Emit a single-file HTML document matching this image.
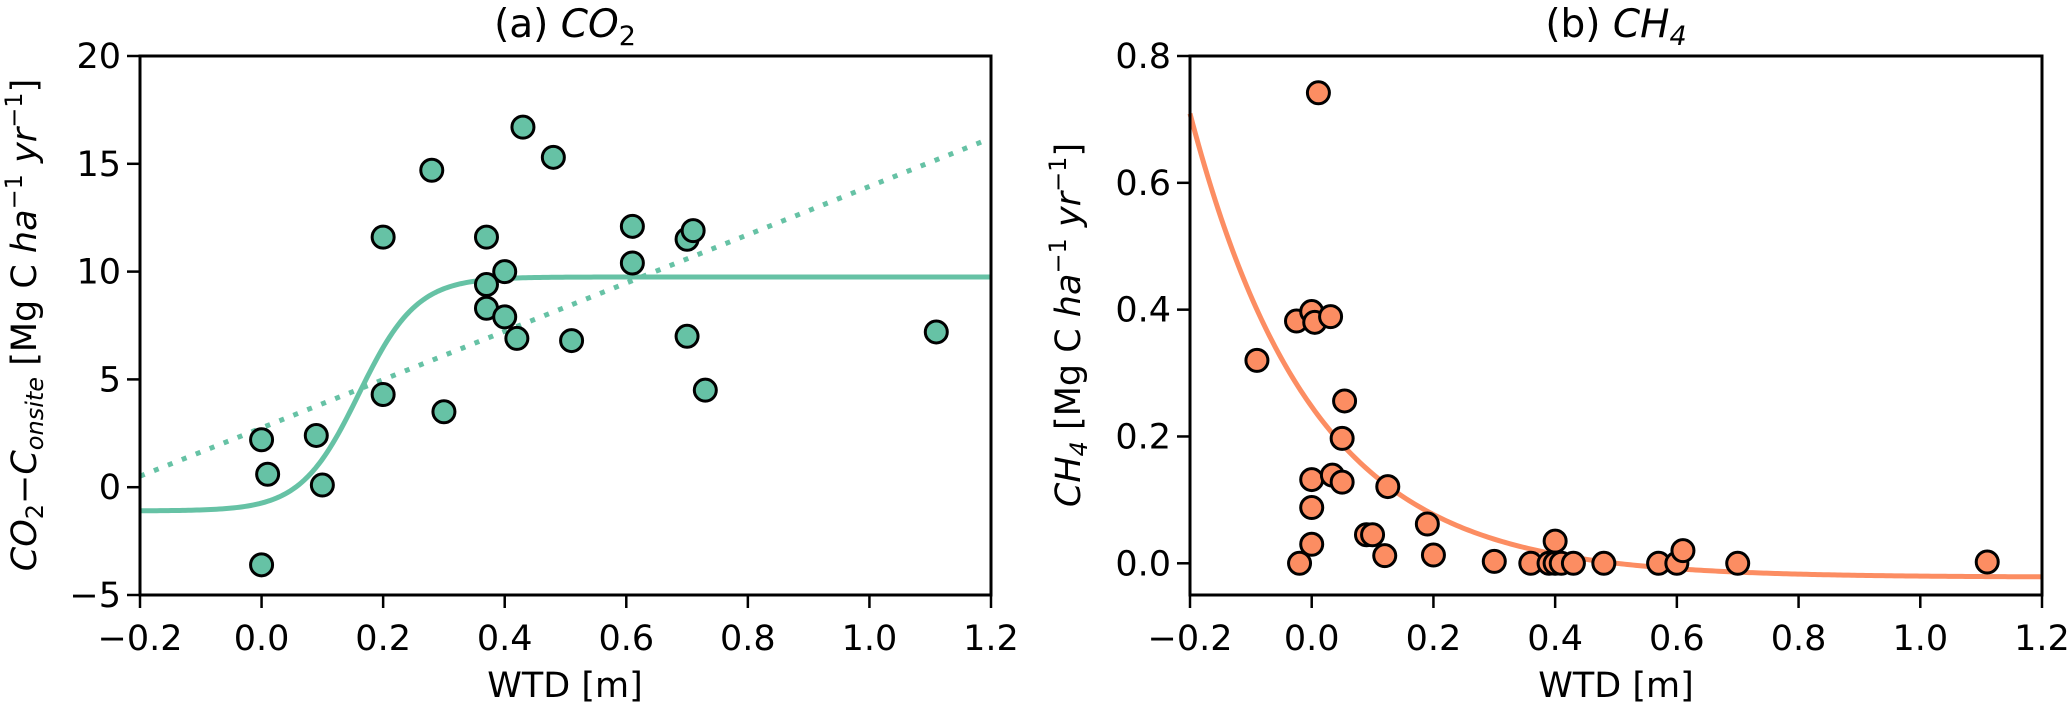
<!DOCTYPE html>
<html><head><meta charset="utf-8"><style>
body{margin:0;background:#fff;}
svg{display:block;font-family:"DejaVu Sans","Liberation Sans",sans-serif;}
</style></head><body>
<svg id="fig" width="2067" height="705" xmlns="http://www.w3.org/2000/svg"></svg>
<script>
const co2X=[0,0.01,0,0.09,0.1,0.2,0.2,0.28,0.3,0.37,0.37,0.37,0.4,0.4,0.42,0.43,0.48,0.51,0.61,0.61,0.7,0.71,0.7,0.73,1.11];
const co2Y=[2.2,0.6,-3.6,2.4,0.1,11.6,4.3,14.7,3.5,11.6,9.4,8.3,10.0,7.9,6.9,16.7,15.3,6.8,12.1,10.4,11.5,11.9,7.0,4.5,7.2];
const ch4X=[-0.09,0.011,-0.025,0.0,0.005,0.031,0.054,0.05,0.0,0.034,0.05,0.125,0.0,0.0,-0.02,0.09,0.1,0.12,0.19,0.2,0.3,0.36,0.39,0.4,0.4,0.41,0.43,0.48,0.57,0.6,0.61,0.7,1.11];
const ch4Y=[0.32,0.742,0.382,0.397,0.38,0.389,0.256,0.197,0.132,0.139,0.128,0.121,0.088,0.030,0.0,0.045,0.045,0.012,0.062,0.013,0.003,0,0,0.035,0,0,0,0,0,0,0.02,0,0.002];
const xTicks=[-0.2,0,0.2,0.4,0.6,0.8,1.0,1.2];
const co2Ticks=[-5,0,5,10,15,20];
const ch4Ticks=[0,0.2,0.4,0.6,0.8];
const sig=[-1.1,9.75,21,0.16]; // low, high, k, mid
const lin=[11.2,2.75]; // slope, intercept
const expP=[0.269,5.0,-0.022]; // a,b,c

const NS="http://www.w3.org/2000/svg";
const svg=document.getElementById('fig');
function el(t,a,p){const e=document.createElementNS(NS,t);for(const k in a)e.setAttribute(k,a[k]);(p||svg).appendChild(e);return e;}

function panel(opt){
  const g=el('g',{});
  
  
  const sx=v=>opt.x0+(v-opt.xmin)/(opt.xmax-opt.xmin)*(opt.x1-opt.x0);
  const sy=v=>opt.y1-(v-opt.ymin)/(opt.ymax-opt.ymin)*(opt.y1-opt.y0);
  opt.curves.forEach(c=>{
    let d='';for(let i=0;i<=300;i++){const x=opt.xmin+(opt.xmax-opt.xmin)*i/300;d+=(i?'L':'M')+sx(x).toFixed(2)+','+sy(c.f(x)).toFixed(2);}
    const p=el('path',{d:d,fill:'none',stroke:opt.color,'stroke-width':5,'stroke-dasharray':c.dash||'none'},g);
    
    
  });
  opt.xs.forEach((x,i)=>{
    const c=el('circle',{cx:sx(x),cy:sy(opt.ys[i]),r:11,fill:opt.color,stroke:'#000','stroke-width':3},g);
    
    
  });
  const fr=el('rect',{x:opt.x0,y:opt.y0,width:opt.x1-opt.x0,height:opt.y1-opt.y0,fill:'none',stroke:'#000','stroke-width':3},g);
  
  
  xTicks.forEach(t=>{
    const x=sx(t);
    el('line',{x1:x,x2:x,y1:opt.y1,y2:opt.y1+13,stroke:'#000','stroke-width':2.5},g);
    const tx=el('text',{x:x,y:650,'font-size':35,'text-anchor':'middle'},g);
    tx.textContent=(t<0?'\u2212':'')+Math.abs(t).toFixed(1);
    
    
  });
  opt.yt.forEach(t=>{
    const y=sy(t);
    el('line',{x1:opt.x0-13,x2:opt.x0,y1:y,y2:y,stroke:'#000','stroke-width':2.5},g);
    const tx=el('text',{x:opt.x0-19,y:y+12,'font-size':35,'text-anchor':'end'},g);
    tx.textContent=(t<0?'\u2212':'')+Math.abs(t).toFixed(opt.dec);
    
    
  });
  return g;
}
panel({name:'co2-panel',x0:140,x1:991,y0:56,y1:595,xmin:-0.2,xmax:1.2,ymin:-5,ymax:20,color:'#66c2a5',xs:co2X,ys:co2Y,yt:co2Ticks,dec:0,
  curves:[{name:'sigmoid-fit',f:x=>sig[0]+(sig[1]-sig[0])/(1+Math.exp(-sig[2]*(x-sig[3])))},
          {name:'linear-fit',f:x=>lin[0]*x+lin[1],dash:'5,10'}]});
panel({name:'ch4-panel',x0:1190,x1:2042,y0:56,y1:595,xmin:-0.2,xmax:1.2,ymin:-0.05,ymax:0.8,color:'#fc8d62',xs:ch4X,ys:ch4Y,yt:ch4Ticks,dec:1,
  curves:[{name:'exp-fit',f:x=>expP[0]*Math.exp(-expP[1]*x)+expP[2]}]});
</script>
<svg width="2067" height="705" style="position:absolute;left:0;top:0" font-family="DejaVu Sans, Liberation Sans, sans-serif">
<text x="565" y="37" font-size="39" text-anchor="middle">(a) <tspan font-style="italic">CO</tspan><tspan font-size="27" dy="8">2</tspan></text>
<text x="1616" y="37" font-size="39" text-anchor="middle">(b) <tspan font-style="italic">CH</tspan><tspan font-size="27" dy="8" font-style="italic">4</tspan></text>
<text x="565" y="697" font-size="35" text-anchor="middle">WTD [m]</text>
<text x="1616" y="697" font-size="35" text-anchor="middle">WTD [m]</text>
<text transform="translate(36,325) rotate(-90)" font-size="35" text-anchor="middle"><tspan font-style="italic">CO</tspan><tspan font-size="24" dy="7">2</tspan><tspan dy="-7">−</tspan><tspan font-style="italic">C</tspan><tspan font-size="24" dy="7" font-style="italic">onsite</tspan><tspan dy="-7"> [Mg C </tspan><tspan font-style="italic">ha</tspan><tspan font-size="24" dy="-14">−1</tspan><tspan dy="14" font-style="italic"> yr</tspan><tspan font-size="24" dy="-14">−1</tspan><tspan dy="14">]</tspan></text>
<text transform="translate(1080,325) rotate(-90)" font-size="35" text-anchor="middle"><tspan font-style="italic">CH</tspan><tspan font-size="24" dy="7" font-style="italic">4</tspan><tspan dy="-7"> [Mg C </tspan><tspan font-style="italic">ha</tspan><tspan font-size="24" dy="-14">−1</tspan><tspan dy="14" font-style="italic"> yr</tspan><tspan font-size="24" dy="-14">−1</tspan><tspan dy="14">]</tspan></text>
</svg>
</body></html>
